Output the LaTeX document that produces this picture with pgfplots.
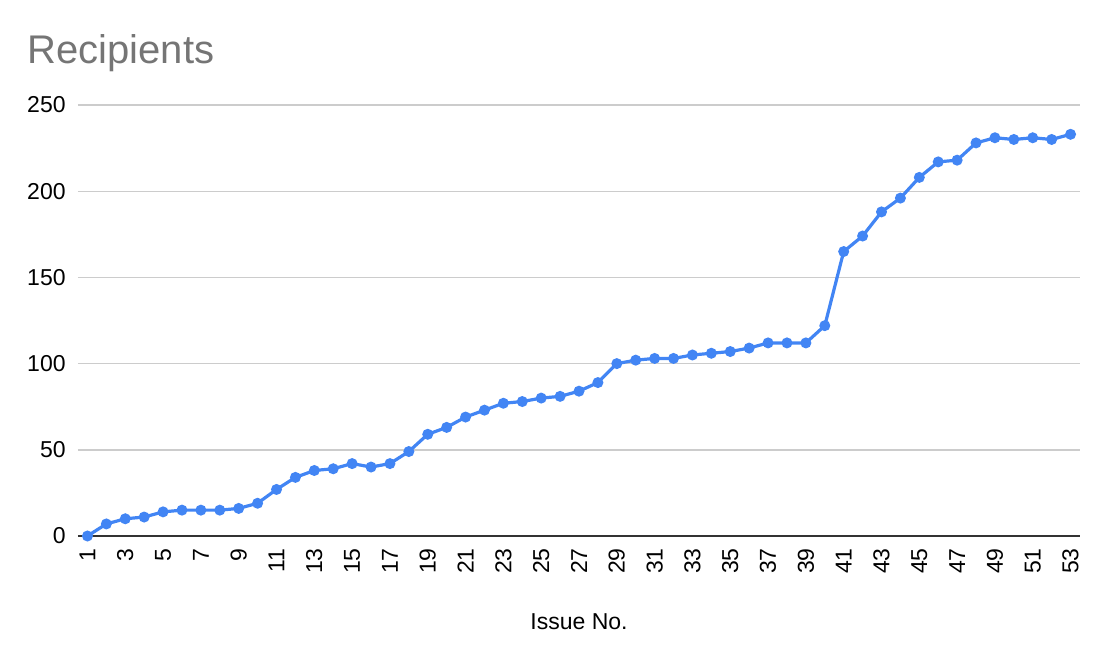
\documentclass[border=0pt]{standalone}
\usepackage{pgfplots}
\pgfplotsset{compat=1.18}
\usepackage{fontspec}
\setmainfont{Liberation Sans}
\definecolor{gblue}{HTML}{4285F4}
\definecolor{ttl}{HTML}{757575}
\definecolor{gridc}{HTML}{CCCCCC}
\definecolor{axc}{HTML}{333333}
\begin{document}
\begin{tikzpicture}
\useasboundingbox (0,0) rectangle (556pt,332.5pt);
\node[anchor=base west, inner sep=0pt, font=\fontsize{20}{23}\selectfont, text=ttl] at (13.5pt,300.8pt) {Recipients};
\begin{axis}[
  at={(39pt,64.5pt)}, anchor=south west,
  scale only axis, width=501pt, height=215.5pt,
  xmin=0.5, xmax=53.5, ymin=0, ymax=250,
  axis x line*=bottom, axis y line*=left,
  x axis line style={draw=axc, line width=1pt},
  y axis line style={draw=none},
  major tick length=0pt,
  xtick={1,3,...,53}, ytick={0,50,...,250},
  ymajorgrids, grid style={gridc, line width=0.7pt},
  tick label style={font=\fontsize{11.5}{13}\selectfont, /pgf/number format/assume math mode=true},
  yticklabel style={anchor=east, inner sep=0pt, xshift=-6pt},
  xticklabel style={anchor=east, inner sep=0pt, yshift=-6pt, rotate=90},
  xlabel={Issue No.},
  xlabel style={at={(rel axis cs:0.5,0)}, anchor=center, yshift=-43pt, font=\fontsize{11.5}{13}\selectfont},
  clip=false,
]
\addplot[gblue, line width=1.6pt, mark=*, mark size=1.9pt, mark options={fill=gblue, draw=gblue}] coordinates {
(1,0)(2,7)(3,10)(4,11)(5,14)(6,15)(7,15)(8,15)(9,16)(10,19)
(11,27)(12,34)(13,38)(14,39)(15,42)(16,40)(17,42)(18,49)(19,59)(20,63)
(21,69)(22,73)(23,77)(24,78)(25,80)(26,81)(27,84)(28,89)(29,100)(30,102)
(31,103)(32,103)(33,105)(34,106)(35,107)(36,109)(37,112)(38,112)(39,112)(40,122)
(41,165)(42,174)(43,188)(44,196)(45,208)(46,217)(47,218)(48,228)(49,231)(50,230)
(51,231)(52,230)(53,233)
};
\end{axis}
\end{tikzpicture}
\end{document}
